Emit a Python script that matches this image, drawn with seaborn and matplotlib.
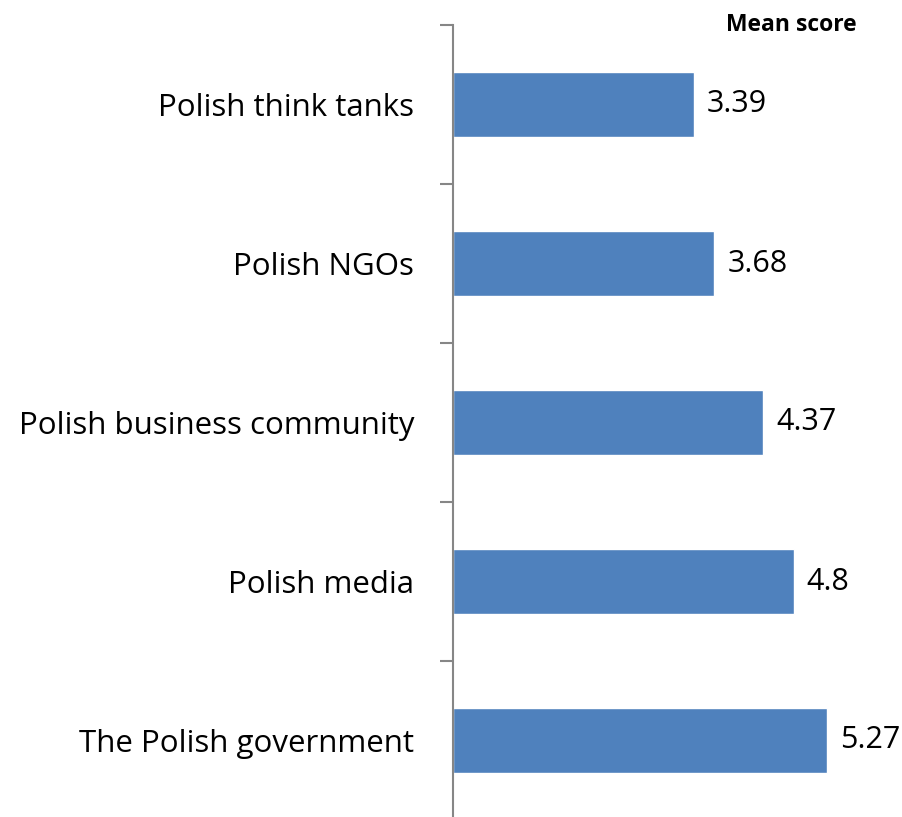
import pandas as pd
import seaborn as sns
import matplotlib.pyplot as plt
import numpy as np

categories = ['Polish think tanks', 'Polish NGOs', 'Polish business community',
              'Polish media', 'The Polish government']
values = [3.39, 3.68, 4.37, 4.8, 5.27]
value_labels = ['3.39', '3.68', '4.37', '4.8', '5.27']

df = pd.DataFrame({'Group': categories, 'Mean score': values})

sns.set_style('white')
plt.rcParams['font.family'] = ['Open Sans', 'DejaVu Sans']

fig = plt.figure(figsize=(9.03, 8.17), dpi=100)
ax = fig.add_axes([453 / 903, -3 / 817, 450 / 903, 795 / 817])

sns.barplot(data=df, y='Group', x='Mean score', orient='h', color='#4F81BD',
            saturation=1, width=0.41, ax=ax)

ax.set_xlim(0, 450 / 71)
ax.set_ylim(4.5, -0.5)
ax.set_xlabel('')
ax.set_ylabel('')
ax.set_xticks([])

for s in ['top', 'right', 'bottom']:
    ax.spines[s].set_visible(False)
ax.spines['left'].set_color('#868686')
ax.spines['left'].set_linewidth(1.5)

ax.tick_params(axis='y', which='major', left=False, length=0, pad=28,
               labelsize=22.5, labelcolor='black')
ax.set_yticks(np.arange(-0.5, 5, 1), minor=True)
ax.tick_params(axis='y', which='minor', left=True, length=9.5, width=1.5,
               color='#868686', direction='out')

for i, (v, lab) in enumerate(zip(values, value_labels)):
    ax.text(v + 13 / 71, i, lab, va='center', ha='left', fontsize=22, color='black')

fig.text(857 / 903, 1 - 25 / 817, 'Mean score', ha='right', va='center',
         fontsize=16.5, fontweight='bold', color='black')

fig.savefig('out.png', dpi=100)
